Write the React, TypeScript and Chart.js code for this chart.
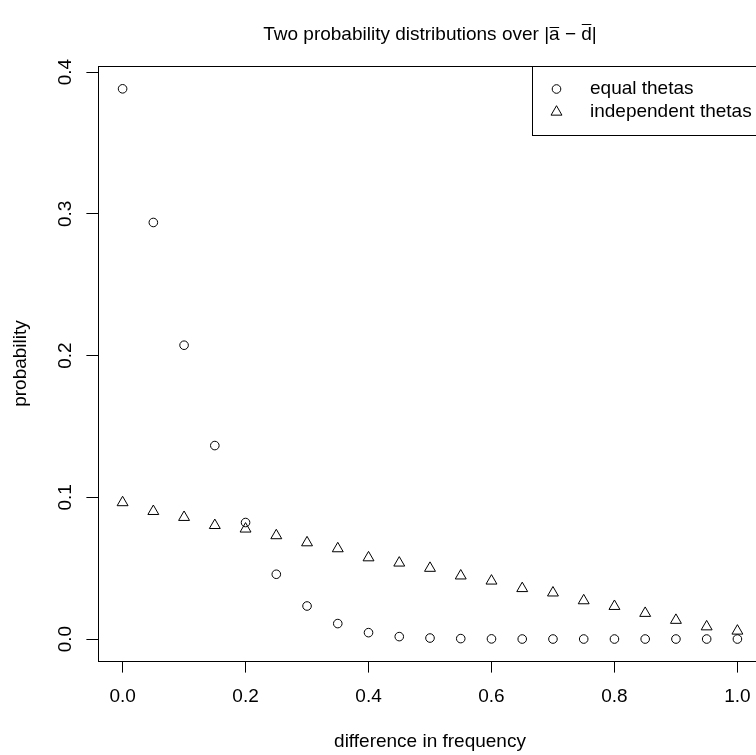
import { useEffect, useRef } from 'react';
import { Chart, registerables } from 'chart.js';

Chart.register(...registerables);

// ---- data ----
const xValues = [0, 0.05, 0.1, 0.15, 0.2, 0.25, 0.3, 0.35, 0.4, 0.45, 0.5, 0.55, 0.6, 0.65, 0.7, 0.75, 0.8, 0.85, 0.9, 0.95, 1.0];
const equalThetas = [0.3882, 0.2939, 0.2073, 0.1365, 0.0822, 0.0457, 0.0233, 0.0109, 0.0045, 0.0017, 0.0007, 0.0003, 0.0001, 0, 0, 0, 0, 0, 0, 0, 0];
const independentThetas = [0.0963, 0.0901, 0.0859, 0.0802, 0.0777, 0.073, 0.068, 0.0638, 0.0574, 0.0537, 0.05, 0.0446, 0.041, 0.0357, 0.0326, 0.0271, 0.0231, 0.0182, 0.0133, 0.0087, 0.0057];
const seriesNames = ['equal thetas', 'independent thetas'];
const xTickValues = [0, 0.2, 0.4, 0.6, 0.8, 1.0];
const xTickLabels = ['0.0', '0.2', '0.4', '0.6', '0.8', '1.0'];
const yTickValues = [0, 0.1, 0.2, 0.3, 0.4];
const yTickLabels = ['0.0', '0.1', '0.2', '0.3', '0.4'];
const chartTitle = 'Two probability distributions over |a \u2212 d|';
const overlinedLetters = ['a', 'd'];
const xAxisTitle = 'difference in frequency';
const yAxisTitle = 'probability';

const FONT = '"Liberation Sans", Arial, Helvetica, sans-serif';
const FONT_SIZE = 19;
const CIRCLE_R = 4.3;
const TRI_R = 6.3;

function drawCircle(ctx: CanvasRenderingContext2D, x: number, y: number) {
  ctx.beginPath();
  ctx.arc(x, y, CIRCLE_R, 0, Math.PI * 2);
  ctx.stroke();
}
function drawTriangle(ctx: CanvasRenderingContext2D, x: number, y: number) {
  ctx.beginPath();
  for (let k = 0; k < 3; k++) {
    const a = (k * 2 * Math.PI) / 3;
    const px = x + Math.sin(a) * TRI_R;
    const py = y - Math.cos(a) * TRI_R;
    if (k === 0) ctx.moveTo(px, py);
    else ctx.lineTo(px, py);
  }
  ctx.closePath();
  ctx.stroke();
}

const overlayPlugin = {
  id: 'rOverlay',
  afterDraw(chart: any) {
    const { ctx, chartArea: ca, scales } = chart;
    ctx.save();
    ctx.strokeStyle = '#000';
    ctx.fillStyle = '#000';
    ctx.lineWidth = 1;

    // plot box
    const l = Math.round(ca.left) + 0.5;
    const t = Math.round(ca.top) + 0.5;
    const r = Math.round(ca.right) + 0.5;
    const b = Math.round(ca.bottom) + 0.5;
    ctx.strokeRect(l, t, r - l, b - t);

    ctx.font = `${FONT_SIZE}px ${FONT}`;

    // y tick labels (rotated, as R draws them)
    yTickValues.forEach((v, i) => {
      const py = scales.y.getPixelForValue(v);
      ctx.save();
      ctx.translate(71, py);
      ctx.rotate(-Math.PI / 2);
      ctx.textAlign = 'center';
      ctx.textBaseline = 'alphabetic';
      ctx.fillText(yTickLabels[i], 0, 0);
      ctx.restore();
    });

    // y axis title
    ctx.save();
    ctx.translate(26, (ca.top + ca.bottom) / 2);
    ctx.rotate(-Math.PI / 2);
    ctx.textAlign = 'center';
    ctx.textBaseline = 'alphabetic';
    ctx.fillText(yAxisTitle, 0, 0);
    ctx.restore();

    // x axis title
    ctx.textAlign = 'center';
    ctx.textBaseline = 'alphabetic';
    ctx.fillText(xAxisTitle, (ca.left + ca.right) / 2, 747);

    // main title with overlines
    const cx = (ca.left + ca.right) / 2;
    const titleY = 40;
    ctx.textAlign = 'left';
    const tw = ctx.measureText(chartTitle).width;
    const x0 = cx - tw / 2;
    ctx.fillText(chartTitle, x0, titleY);
    let searchFrom = chartTitle.indexOf('|');
    overlinedLetters.forEach((ch) => {
      const idx = chartTitle.indexOf(ch, searchFrom);
      searchFrom = idx + 1;
      const pre = ctx.measureText(chartTitle.slice(0, idx)).width;
      const w = ctx.measureText(ch).width;
      const top = ch === 'a' ? titleY - FONT_SIZE * 0.66 : titleY - FONT_SIZE * 0.86;
      ctx.beginPath();
      ctx.moveTo(x0 + pre + 0.5, Math.round(top) + 0.5);
      ctx.lineTo(x0 + pre + w - 0.5, Math.round(top) + 0.5);
      ctx.stroke();
    });

    // legend
    const lgLeft = 532.5;
    const lgTop = Math.round(ca.top) + 0.5;
    ctx.strokeRect(lgLeft, lgTop, 300, 69);
    const rows = [89, 112];
    drawCircle(ctx, 556.5, rows[0]);
    drawTriangle(ctx, 556.5, rows[1]);
    ctx.textAlign = 'left';
    ctx.textBaseline = 'middle';
    seriesNames.forEach((name, i) => ctx.fillText(name, 590, rows[i]));

    ctx.restore();
  },
};

export default function App() {
  const ref = useRef<HTMLCanvasElement | null>(null);

  useEffect(() => {
    if (!ref.current) return;
    const pointsFor = (ys: number[]) => xValues.map((x, i) => ({ x, y: ys[i] }));
    const chart = new Chart(ref.current, {
      type: 'scatter',
      data: {
        datasets: [
          {
            label: seriesNames[0],
            data: pointsFor(equalThetas),
            pointStyle: 'circle',
            pointRadius: CIRCLE_R,
            pointBorderWidth: 1,
            pointBorderColor: '#000',
            pointBackgroundColor: 'rgba(0,0,0,0)',
            showLine: false,
          },
          {
            label: seriesNames[1],
            data: pointsFor(independentThetas),
            pointStyle: 'triangle',
            pointRadius: TRI_R,
            pointBorderWidth: 1,
            pointBorderColor: '#000',
            pointBackgroundColor: 'rgba(0,0,0,0)',
            showLine: false,
          },
        ],
      },
      options: {
        animation: false,
        responsive: false,
        devicePixelRatio: 1,
        events: [],
        layout: { padding: { top: 66, right: 8, left: 0, bottom: 0 } },
        plugins: {
          legend: { display: false },
          title: { display: false },
          tooltip: { enabled: false },
        },
        scales: {
          x: {
            type: 'linear',
            min: -0.04,
            max: 1.04,
            afterBuildTicks: (s: any) => {
              s.ticks = xTickValues.map((v) => ({ value: v }));
            },
            afterFit: (s: any) => {
              s.height = 94;
            },
            grid: { drawOnChartArea: false, drawTicks: true, tickLength: 11.6, color: '#000', lineWidth: 1 },
            border: { display: false },
            ticks: {
              callback: (_v: any, i: number) => xTickLabels[i],
              font: { family: FONT, size: FONT_SIZE },
              color: '#000',
              padding: 13,
              minRotation: 0,
              maxRotation: 0,
              autoSkip: false,
            },
          },
          y: {
            type: 'linear',
            min: -0.0155,
            max: 0.4043,
            afterBuildTicks: (s: any) => {
              s.ticks = yTickValues.map((v) => ({ value: v }));
            },
            afterFit: (s: any) => {
              s.width = 98;
            },
            grid: { drawOnChartArea: false, drawTicks: true, tickLength: 11.6, color: '#000', lineWidth: 1 },
            border: { display: false },
            ticks: { display: false },
          },
        },
      },
      plugins: [overlayPlugin],
    });
    return () => chart.destroy();
  }, []);

  return (
    <div style={{ position: 'fixed', left: 0, top: 0, width: 756, height: 755, overflow: 'hidden', background: '#fff' }}>
      <canvas ref={ref} width={770} height={755} style={{ display: 'block', width: 770, height: 755 }} />
    </div>
  );
}
